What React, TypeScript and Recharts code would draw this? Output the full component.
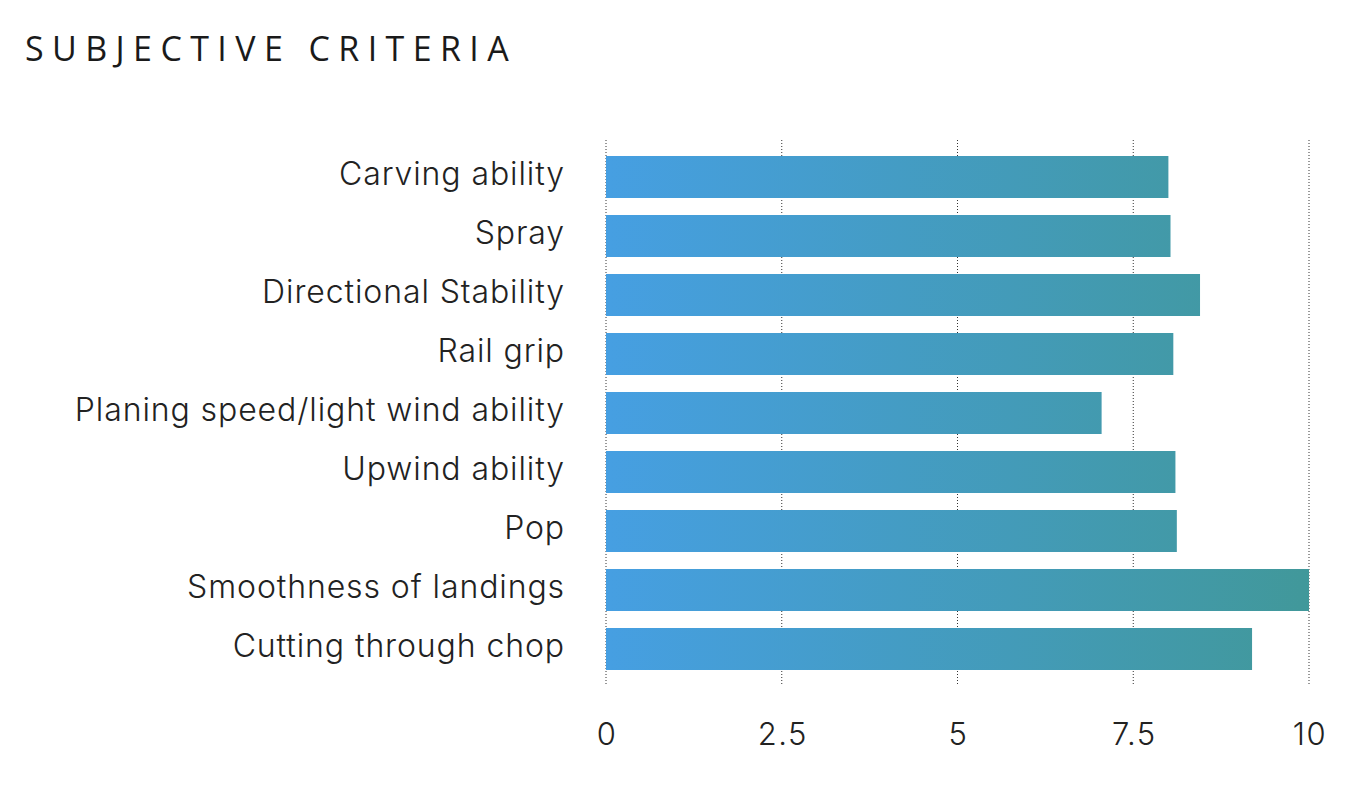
import { Bar, BarChart, CartesianGrid, XAxis, YAxis } from "recharts"

const criteria = [
    'Carving ability',
    'Spray',
    'Directional Stability',
    'Rail grip',
    'Planing speed/light wind ability',
    'Upwind ability',
    'Pop',
    'Smoothness of landings',
    'Cutting through chop',
]
const scores = [8.0, 8.03, 8.45, 8.07, 7.05, 8.1, 8.12, 10, 9.19]
const xTicks = [0, 2.5, 5, 7.5, 10]

const data = criteria.map((name, i) => ({ name, score: scores[i] }))

const App = () => {
    return (
        <div style={{ position: 'absolute', left: 0, top: 0, width: 1360, height: 786, background: '#fff' }}>
            <div
                style={{
                    position: 'absolute',
                    left: 25,
                    top: 26,
                    fontFamily: '"Open Sans", sans-serif',
                    fontSize: 34,
                    letterSpacing: 8.4,
                    color: '#1a1a1a',
                    lineHeight: '44px',
                    whiteSpace: 'nowrap',
                }}
            >
                SUBJECTIVE CRITERIA
            </div>
            <BarChart
                width={1360}
                height={786}
                data={data}
                layout="vertical"
                margin={{ top: 140, right: 51, left: 0, bottom: 0 }}
                barSize={42}
            >
                <defs>
                    <linearGradient id="barGrad" gradientUnits="userSpaceOnUse" x1="606" y1="0" x2="1309" y2="0">
                        <stop offset="0%" stopColor="#469fe2" />
                        <stop offset="100%" stopColor="#41989a" />
                    </linearGradient>
                </defs>
                <CartesianGrid horizontal={false} stroke="#333" strokeDasharray="1 2" />
                <XAxis
                    type="number"
                    domain={[0, 10]}
                    ticks={xTicks}
                    height={100}
                    axisLine={false}
                    tickLine={false}
                    tickMargin={31}
                    tick={{ fill: '#222', fontSize: 31, fontFamily: 'Inter, sans-serif', fontWeight: 300, letterSpacing: 1.5, dx: 1 }}
                />
                <YAxis
                    type="category"
                    dataKey="name"
                    width={606}
                    axisLine={false}
                    tickLine={false}
                    tickMargin={35}
                    padding={{ top: 7, bottom: 8 }}
                    interval={0}
                    tick={{ fill: '#222', fontSize: 32, fontFamily: 'Inter, sans-serif', fontWeight: 300, letterSpacing: 0.9, dy: -3 }}
                />
                <Bar dataKey="score" fill="url(#barGrad)" isAnimationActive={false} />
            </BarChart>
        </div>
    )
}

export default App
